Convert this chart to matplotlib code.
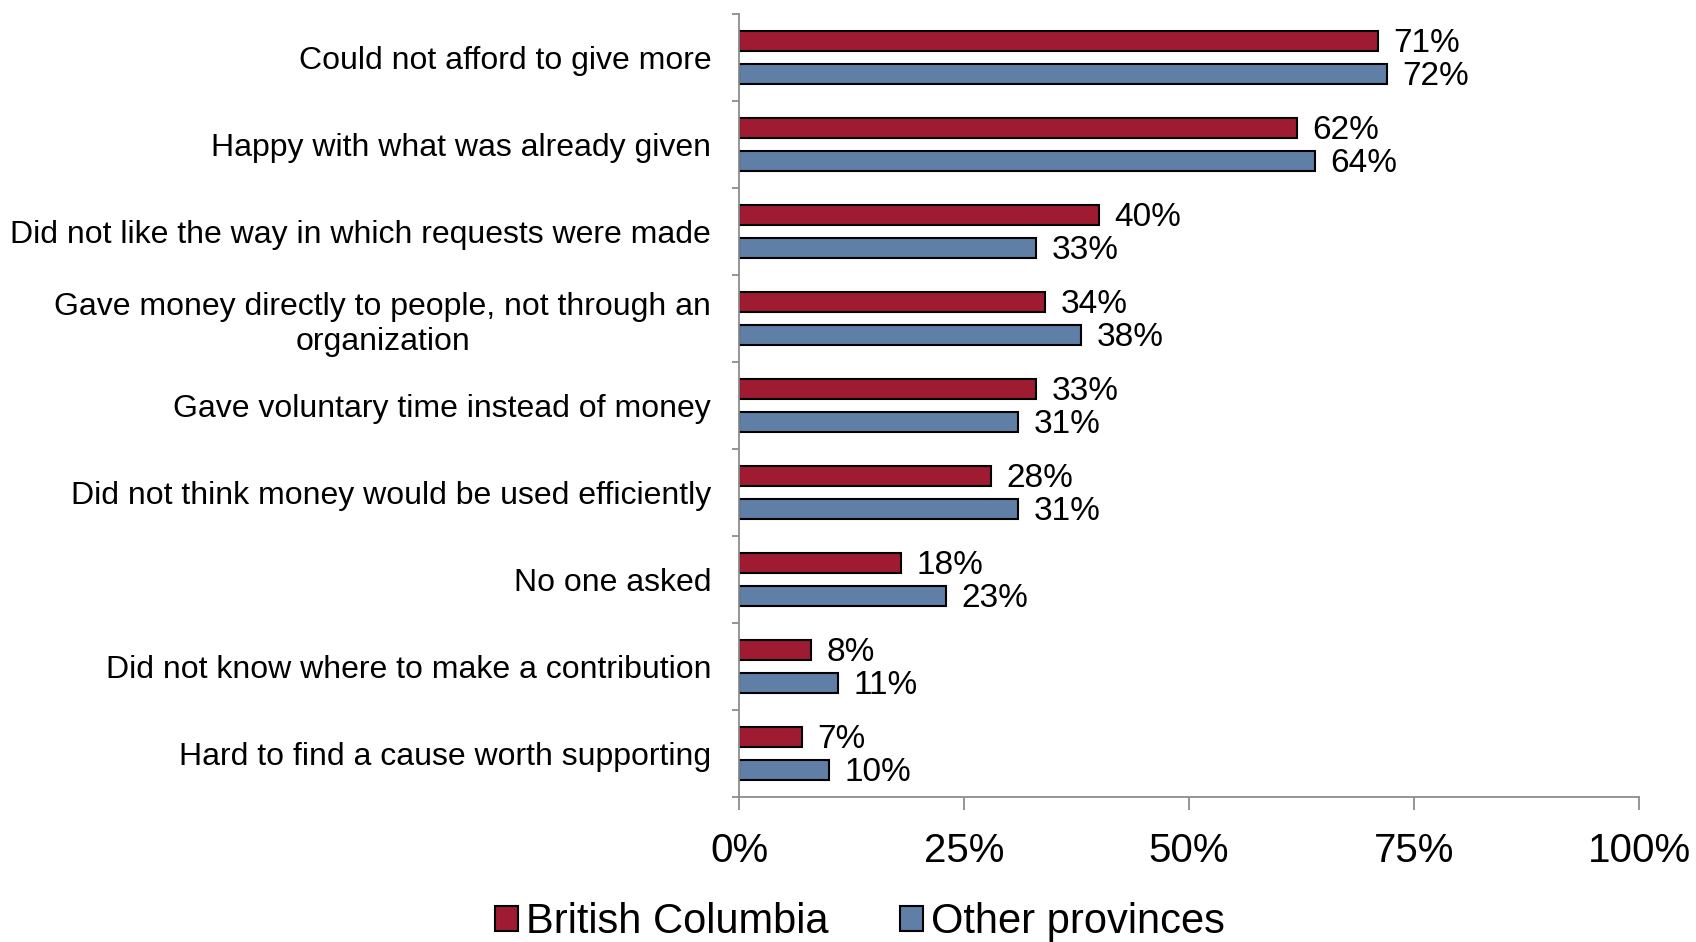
import matplotlib
matplotlib.use("Agg")
import matplotlib.pyplot as plt
import numpy as np

plt.rcParams['font.family'] = ['Liberation Sans', 'DejaVu Sans']

reasons = [
    "Could not afford to give more",
    "Happy with what was already given",
    "Did not like the way in which requests were made",
    "Gave money directly to people, not through an\norganization",
    "Gave voluntary time instead of money",
    "Did not think money would be used efficiently",
    "No one asked",
    "Did not know where to make a contribution",
    "Hard to find a cause worth supporting",
]
bc_values = [71, 62, 40, 34, 33, 28, 18, 8, 7]
other_values = [72, 64, 33, 38, 31, 31, 23, 11, 10]
series_names = ["British Columbia", "Other provinces"]
bc_color = "#9E1B32"
other_color = "#5F7FA6"
axis_gray = "#8C8C8C"

fig = plt.figure(figsize=(16.96, 9.42), dpi=100)
ax = fig.add_axes([0.4357, 0.154, 0.5307, 0.831])

y = np.arange(len(reasons))
offset = 0.19
height = 0.235

bars_bc = ax.barh(y - offset, bc_values, height=height, color=bc_color,
                  edgecolor="black", linewidth=1.5, label=series_names[0])
bars_other = ax.barh(y + offset, other_values, height=height, color=other_color,
                     edgecolor="black", linewidth=1.5, label=series_names[1])

# percentage labels just past the end of each bar
for bars, vals in [(bars_bc, bc_values), (bars_other, other_values)]:
    for bar, v in zip(bars, vals):
        ax.annotate(f"{v}%", (v, bar.get_y() + bar.get_height() / 2),
                    xytext=(11, -1.5), textcoords="offset points",
                    ha="left", va="center", fontsize=24)

ax.set_xlim(0, 100)
ax.set_ylim(len(reasons) - 0.5, -0.5)

ax.set_xticks([0, 25, 50, 75, 100])
ax.set_xticklabels(["0%", "25%", "50%", "75%", "100%"], fontsize=29)
ax.tick_params(axis="x", length=9.5, width=1.3, color=axis_gray, pad=16)

ax.set_yticks(y)
ax.set_yticklabels(reasons, fontsize=23, multialignment="center")
ax.tick_params(axis="y", which="major", length=0, pad=20)
ax.set_yticks(np.arange(len(reasons) + 1) - 0.5, minor=True)
ax.tick_params(axis="y", which="minor", length=5, width=1.3, color=axis_gray)

for side in ["top", "right"]:
    ax.spines[side].set_visible(False)
for side in ["left", "bottom"]:
    ax.spines[side].set_color(axis_gray)
    ax.spines[side].set_linewidth(1.3)

fig.legend(handles=[bars_bc, bars_other], loc="center",
           bbox_to_anchor=(0.507, 0.021), ncol=2, frameon=False,
           fontsize=30, handlelength=0.55, handleheight=0.55,
           handletextpad=0.2, columnspacing=1.7, borderaxespad=0)

fig.savefig("out.png", dpi=100)
